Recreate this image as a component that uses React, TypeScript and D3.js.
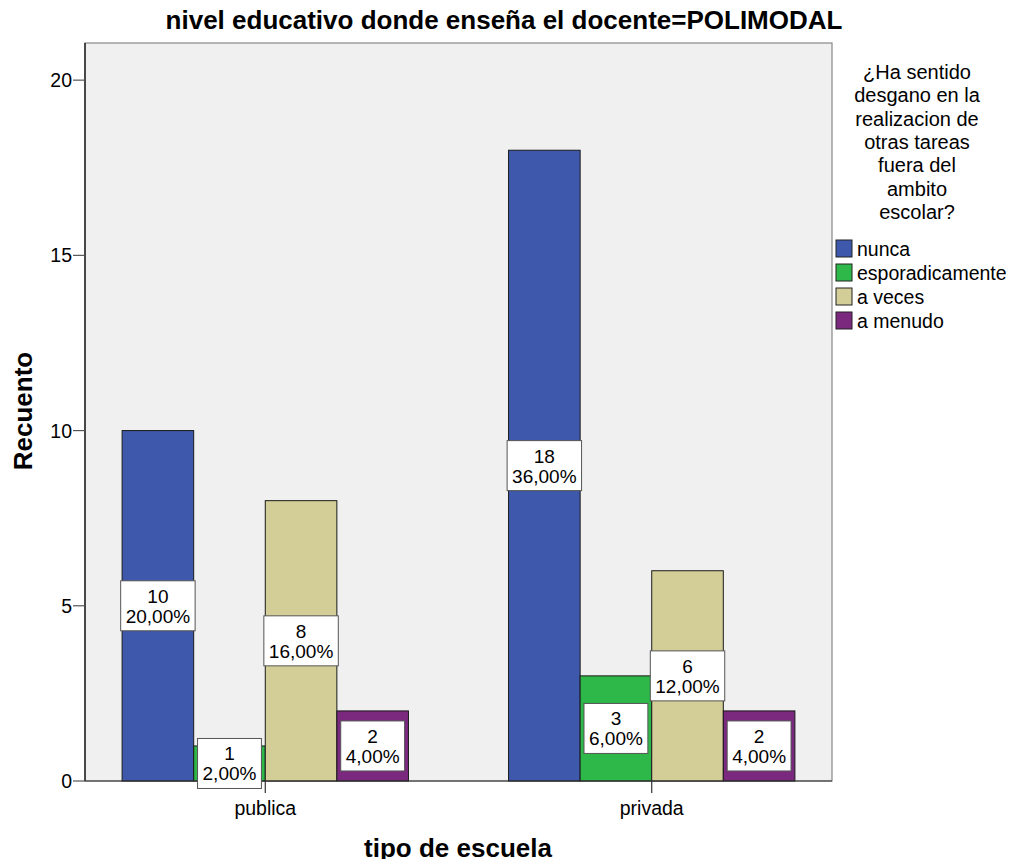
import React from "react";
import * as d3 from "d3";

const schoolTypes = ["publica", "privada"];
const responses = ["nunca", "esporadicamente", "a veces", "a menudo"];
const colors = ["#3E58AC", "#2EB84A", "#D3CE97", "#7B287F"];
const publicaCounts = [10, 1, 8, 2];
const privadaCounts = [18, 3, 6, 2];
const publicaPct = ["20,00%", "2,00%", "16,00%", "4,00%"];
const privadaPct = ["36,00%", "6,00%", "12,00%", "4,00%"];
const yTicks = [0, 5, 10, 15, 20];
const legendTitleLines = [
  "¿Ha sentido",
  "desgano en la",
  "realizacion de",
  "otras tareas",
  "fuera del",
  "ambito",
  "escolar?",
];
const chartTitle = "nivel educativo donde enseña el docente=POLIMODAL";
const xTitle = "tipo de escuela";
const yTitle = "Recuento";

const FONT = "'Liberation Sans', Arial, sans-serif";

let ctx: CanvasRenderingContext2D | null = null;
function textWidth(s: string, size: number): number {
  if (!ctx) {
    const c = document.createElement("canvas");
    ctx = c.getContext("2d");
  }
  if (!ctx) return s.length * size * 0.55;
  ctx.font = `${size}px ${FONT}`;
  return ctx.measureText(s).width;
}

export default function App() {
  const W = 1014;
  const H = 867;
  const left = 85;
  const right = 832;
  const top = 43;
  const bottom = 781;

  const y = d3.scaleLinear().domain([0, 21.06]).range([bottom, top]);
  const x0 = d3
    .scaleBand<string>()
    .domain(schoolTypes)
    .range([left, right])
    .paddingInner(0.259)
    .paddingOuter(0.096);
  const x1 = d3
    .scaleBand<string>()
    .domain(responses)
    .range([0, x0.bandwidth()]);

  const data = schoolTypes.map((s, i) => ({
    school: s,
    counts: i === 0 ? publicaCounts : privadaCounts,
    pcts: i === 0 ? publicaPct : privadaPct,
  }));

  const labelSize = 19;

  return (
    <svg width={W} height={H} style={{ display: "block", margin: "-8px", fontFamily: FONT }}>
      <rect x={0} y={0} width={W} height={H} fill="#ffffff" />
      <text x={504} y={29} textAnchor="middle" fontSize={26} fontWeight="bold" fill="#000">
        {chartTitle}
      </text>
      {/* plot background */}
      <rect x={left} y={top} width={right - left} height={bottom - top} fill="#F0F0F0" stroke="#888" strokeWidth={1.2} />
      {/* bars */}
      {data.map((g) =>
        g.counts.map((v, j) => (
          <rect
            key={g.school + j}
            x={(x0(g.school) ?? 0) + (x1(responses[j]) ?? 0)}
            y={y(v)}
            width={x1.bandwidth()}
            height={y(0) - y(v)}
            fill={colors[j]}
            stroke="#1a1a1a"
            strokeWidth={1}
          />
        ))
      )}
      {/* axes lines */}
      <line x1={left} y1={top} x2={left} y2={bottom} stroke="#000" strokeWidth={1.2} />
      <line x1={left} y1={bottom} x2={right} y2={bottom} stroke="#333" strokeWidth={1.2} />
      {yTicks.map((t) => (
        <g key={t}>
          <line x1={left - 12} x2={left} y1={y(t)} y2={y(t)} stroke="#555" strokeWidth={1.2} />
          <text x={left - 13} y={y(t) + 7} textAnchor="end" fontSize={19.5} fill="#000">
            {t}
          </text>
        </g>
      ))}
      {/* bar labels */}
      {data.map((g) =>
        g.counts.map((v, j) => {
          const cx = (x0(g.school) ?? 0) + (x1(responses[j]) ?? 0) + x1.bandwidth() / 2;
          const cy = y(v / 2);
          const w = Math.max(textWidth(String(v), labelSize), textWidth(g.pcts[j], labelSize)) + 10;
          const h = 50;
          return (
            <g key={"l" + g.school + j}>
              <rect x={cx - w / 2} y={cy - h / 2} width={w} height={h} fill="#fff" stroke="#555" strokeWidth={1} />
              <text x={cx} y={cy - 3} textAnchor="middle" fontSize={labelSize} fill="#000">
                {v}
              </text>
              <text x={cx} y={cy + 17} textAnchor="middle" fontSize={labelSize} fill="#000">
                {g.pcts[j]}
              </text>
            </g>
          );
        })
      )}
      {/* x ticks */}
      {schoolTypes.map((s) => {
        const cx = (x0(s) ?? 0) + x0.bandwidth() / 2;
        return (
          <g key={s}>
            <line x1={cx} x2={cx} y1={bottom} y2={bottom + 12} stroke="#333" strokeWidth={1.2} />
            <text x={cx} y={bottom + 34} textAnchor="middle" fontSize={19.5} fill="#000">
              {s}
            </text>
          </g>
        );
      })}
      <text x={458} y={857} textAnchor="middle" fontSize={26} fontWeight="bold" fill="#000">
        {xTitle}
      </text>
      <text
        transform={`translate(32, 411) rotate(-90)`}
        textAnchor="middle"
        fontSize={26}
        fontWeight="bold"
        fill="#000"
      >
        {yTitle}
      </text>
      {/* legend */}
      {legendTitleLines.map((l, i) => (
        <text key={l} x={917} y={79 + i * 23.3} textAnchor="middle" fontSize={20} fill="#000">
          {l}
        </text>
      ))}
      {responses.map((r, i) => (
        <g key={r}>
          <rect x={836} y={240 + i * 24} width={16} height={17} fill={colors[i]} stroke="#222" strokeWidth={1} />
          <text x={857} y={256 + i * 24} fontSize={19.5} fill="#000">
            {r}
          </text>
        </g>
      ))}
    </svg>
  );
}
